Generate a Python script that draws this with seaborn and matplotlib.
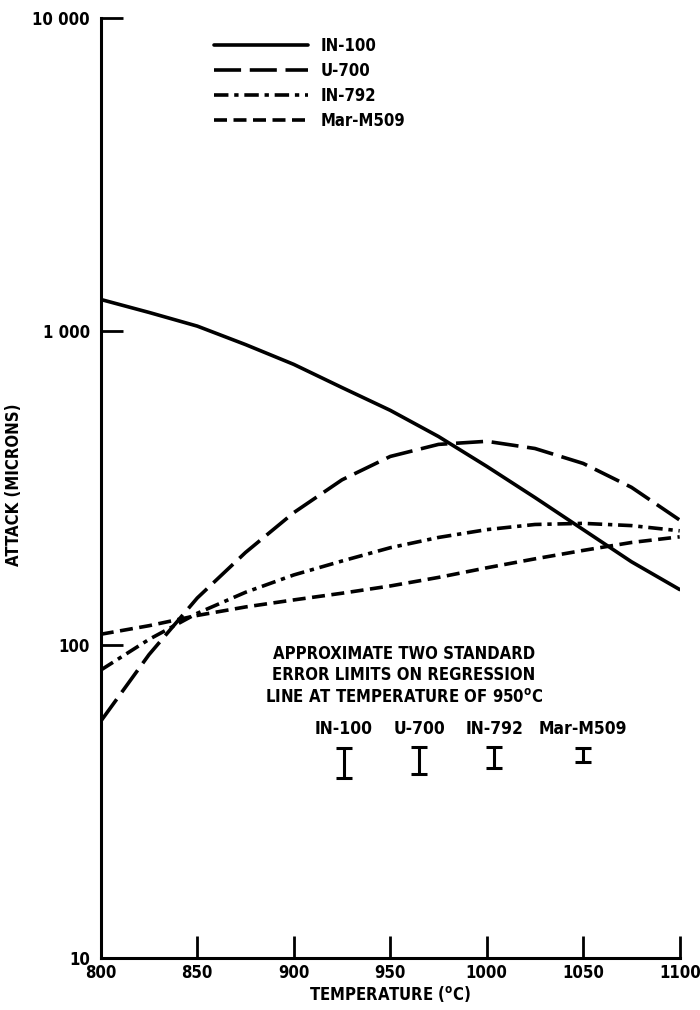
import numpy as np
import pandas as pd
import matplotlib
matplotlib.use("Agg")
import matplotlib.pyplot as plt
import seaborn as sns
from matplotlib.lines import Line2D

# ---- data ----
temperature = [800, 825, 850, 875, 900, 925, 950, 975, 1000, 1025, 1050, 1075, 1100]
in100 = [1265, 1150, 1040, 908, 785, 662, 560, 462, 371, 295, 233, 184, 150]
u700 = [57, 93, 141, 197, 264, 336, 399, 436, 446, 423, 379, 318, 250]
in792 = [83, 104, 126, 147, 167, 185, 204, 220, 233, 242, 244, 240, 231]
marm509 = [108, 115, 124, 132, 139, 146, 154, 164, 176, 188, 200, 212, 221]
alloys = ["IN-100", "U-700", "IN-792", "Mar-M509"]

err_labels = ["IN-100", "U-700", "IN-792", "Mar-M509"]
err_temp = [926, 965, 1004, 1050]
err_low = [37.6, 38.7, 40.5, 42.3]
err_high = [46.9, 47.0, 47.2, 46.9]

x_ticks = [800, 850, 900, 950, 1000, 1050, 1100]
y_ticks = [10, 100, 1000, 10000]
y_tick_labels = ["10", "100", "1 000", "10 000"]

df = pd.DataFrame({
    "temperature": temperature * 4,
    "attack": in100 + u700 + in792 + marm509,
    "alloy": sum([[a] * len(temperature) for a in alloys], []),
})

sns.set_theme(style="white")
plt.rcParams["font.family"] = ["DejaVu Sans"]
plt.rcParams["text.color"] = "black"
plt.rcParams["axes.labelcolor"] = "black"
plt.rcParams["xtick.color"] = "black"
plt.rcParams["ytick.color"] = "black"
FONT = dict(family="DejaVu Sans", weight="bold", stretch="condensed")

fig = plt.figure(figsize=(7.0, 10.1), dpi=100)
ax = fig.add_axes([0.144, 0.0515, 0.827, 0.9305])

lw = 2.6
dashes = {
    "IN-100": "",
    "U-700": (7.5, 2.4),
    "IN-792": (4.0, 1.6, 1.2, 1.6),
    "Mar-M509": (3.6, 1.8),
}
sns.lineplot(data=df, x="temperature", y="attack", style="alloy",
             style_order=alloys, dashes=dashes, color="black",
             linewidth=lw, ax=ax, legend=False)

ax.set_yscale("log")
ax.set_xlim(800, 1100)
ax.set_ylim(10, 10000)

# error limit bars
mid = [(l * h) ** 0.5 for l, h in zip(err_low, err_high)]
ax.errorbar(err_temp, mid,
            yerr=[[m - l for m, l in zip(mid, err_low)],
                  [h - m for m, h in zip(mid, err_high)]],
            fmt="none", ecolor="black", elinewidth=2.2, capsize=6, capthick=2.2)
for t, lab in zip(err_temp, err_labels):
    ax.text(t, 50.5, lab, ha="center", va="bottom", fontsize=12.5, **FONT)

ax.text(957, 80, "APPROXIMATE TWO STANDARD\nERROR LIMITS ON REGRESSION\nLINE AT TEMPERATURE OF 950$^{\\mathregular{o}}$C",
        ha="center", va="center", fontsize=12, linespacing=1.25, **FONT)

# legend
handles = [Line2D([], [], color="black", linewidth=lw,
                  linestyle=(0, dashes[a]) if dashes[a] else "-") for a in alloys]
leg = ax.legend(handles, alloys, loc="upper left", bbox_to_anchor=(0.17, 0.996),
                frameon=False, handlelength=5.6, handletextpad=0.8,
                labelspacing=0.42, prop=dict(size=12, **FONT))

# axes styling
for s in ["top", "right"]:
    ax.spines[s].set_visible(False)
for s in ["left", "bottom"]:
    ax.spines[s].set_linewidth(2.2)
    ax.spines[s].set_color("black")

ax.set_xticks(x_ticks)
ax.set_xticklabels([str(v) for v in x_ticks], fontsize=12, **FONT)
ax.set_yticks(y_ticks)
ax.set_yticklabels(y_tick_labels, fontsize=12, **FONT)
ax.yaxis.set_minor_locator(matplotlib.ticker.NullLocator())
ax.tick_params(axis="x", direction="in", length=16, width=2, pad=4, bottom=True)
ax.tick_params(axis="y", direction="in", length=16, width=2, pad=8, left=True)

ax.set_xlabel("TEMPERATURE ($^{\\mathregular{o}}$C)", fontsize=12, labelpad=2, **FONT)
ax.set_ylabel("ATTACK (MICRONS)", fontsize=12, **FONT)
ax.yaxis.set_label_coords(-0.135, 0.504)
ax.grid(False)

fig.savefig("out.png", dpi=100, facecolor="white")
